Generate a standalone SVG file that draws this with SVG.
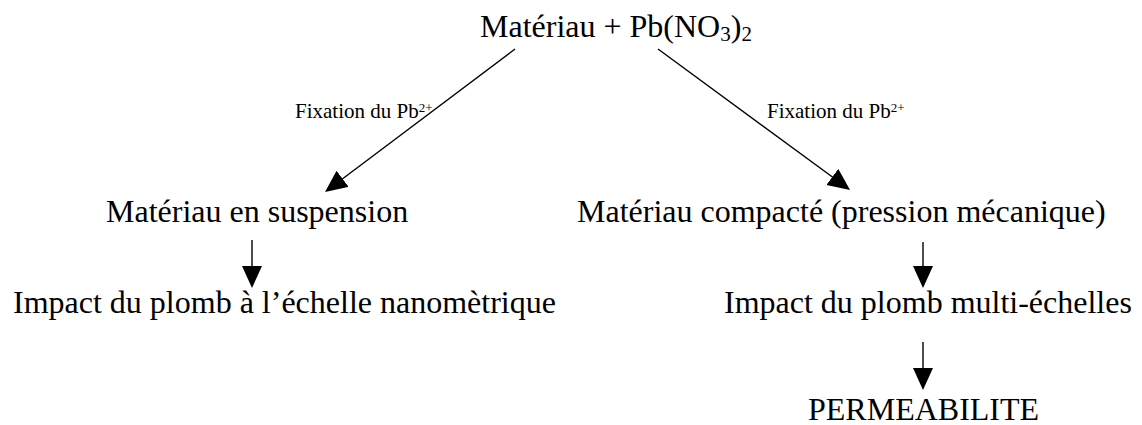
<svg xmlns="http://www.w3.org/2000/svg" width="1142" height="425" viewBox="0 0 1142 425">
<style>
.t{font-family:"Liberation Serif","Times New Roman",serif;font-size:32px;fill:#000}
.s{font-family:"Liberation Serif","Times New Roman",serif;font-size:21px;fill:#000}
.c{stroke:#000;stroke-width:1.4;fill:none}
</style>
<defs>
<marker id="ah" markerUnits="userSpaceOnUse" markerWidth="24" markerHeight="22" refX="12" refY="10" orient="auto">
<path d="M0,0 L22,10 L0,20 z" fill="#000"/>
</marker>
</defs>
<rect width="1142" height="425" fill="#fff"/>
<g id="n-top"><text class="t" x="480" y="37">Matériau + Pb(NO<tspan font-size="21" dy="4">3</tspan><tspan dy="-4">)</tspan><tspan font-size="21" dy="4">2</tspan></text></g>
<g id="n-susp"><text class="t" x="106" y="222">Matériau en suspension</text></g>
<g id="n-comp"><text class="t" x="577" y="222">Matériau compacté (pression mécanique)</text></g>
<g id="n-nano"><text class="t" x="13" y="313">Impact du plomb à l’échelle nanomètrique</text></g>
<g id="n-multi"><text class="t" x="724" y="313">Impact du plomb multi-échelles</text></g>
<g id="n-perm"><text class="t" x="808" y="420">PERMEABILITE</text></g>
<g id="connectors">
<line class="c" x1="515" y1="49" x2="333" y2="186" marker-end="url(#ah)"/>
<line class="c" x1="658" y1="49" x2="842" y2="184" marker-end="url(#ah)"/>
<line class="c" x1="252" y1="240" x2="252" y2="278" marker-end="url(#ah)"/>
<line class="c" x1="923" y1="242" x2="923" y2="278" marker-end="url(#ah)"/>
<line class="c" x1="923" y1="342" x2="923" y2="380" marker-end="url(#ah)"/>
<text class="s" x="295" y="118">Fixation du Pb<tspan font-size="13" dy="-6">2+</tspan></text>
<text class="s" x="767" y="118">Fixation du Pb<tspan font-size="13" dy="-6">2+</tspan></text>
</g>
</svg>
